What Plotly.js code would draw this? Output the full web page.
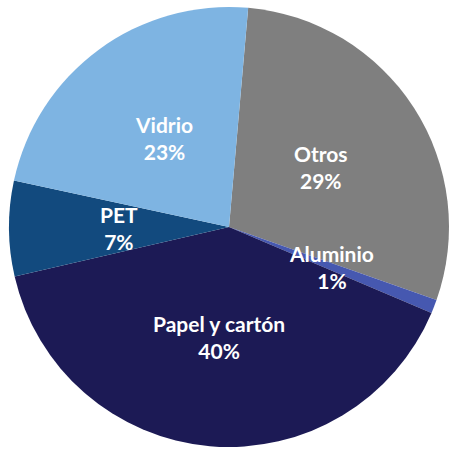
<!DOCTYPE html>
<html>
<head>
<meta charset="utf-8">
<script src="https://cdn.plot.ly/plotly-3.0.1.min.js"></script>
<style>html,body{margin:0;padding:0;background:#fff;}#chart{width:449px;height:449px;}</style>
</head>
<body>
<div id="chart"></div>
<script>
var labels = ["Otros", "Aluminio", "Papel y cartón", "PET", "Vidrio"];
var values = [29, 1, 40, 7, 23];
var colors = ["#7f7f7f", "#4658b0", "#1c1a55", "#124a7e", "#7eb4e2"];

var W = 449, H = 449;
var M = {l: 9, r: 0, t: 5, b: 0};
var rotation = 5;

var pw = W - M.l - M.r, ph = H - M.t - M.b;
var R = Math.min(pw, ph) / 2;
var cx = M.l + pw / 2, cy = M.t + ph / 2;
var total = values.reduce(function (a, b) { return a + b; }, 0);

var annotations = [];
var cum = 0;
for (var i = 0; i < values.length; i++) {
  var mid = (rotation + (cum + values[i] / 2) / total * 360) * Math.PI / 180;
  cum += values[i];
  var px = cx + 0.5 * R * Math.sin(mid);
  var py = cy - 0.5 * R * Math.cos(mid);
  annotations.push({
    xref: "paper", yref: "paper",
    x: (px - M.l) / pw, y: 1 - (py - M.t) / ph,
    xanchor: "center", yanchor: "middle",
    text: labels[i] + "<br>" + Math.round(values[i] / total * 100) + "%",
    showarrow: false,
    font: {family: "Lato, 'Open Sans', sans-serif", size: 21, color: "#ffffff", weight: "bold"}
  });
}

Plotly.newPlot("chart", [{
  type: "pie",
  labels: labels,
  values: values,
  sort: false,
  direction: "clockwise",
  rotation: rotation,
  marker: {colors: colors, line: {width: 0}},
  textinfo: "none",
  hoverinfo: "label+percent",
  showlegend: false
}], {
  width: W, height: H,
  margin: M,
  paper_bgcolor: "#ffffff",
  showlegend: false,
  annotations: annotations
}, {displayModeBar: false, staticPlot: true});
</script>
</body>
</html>
